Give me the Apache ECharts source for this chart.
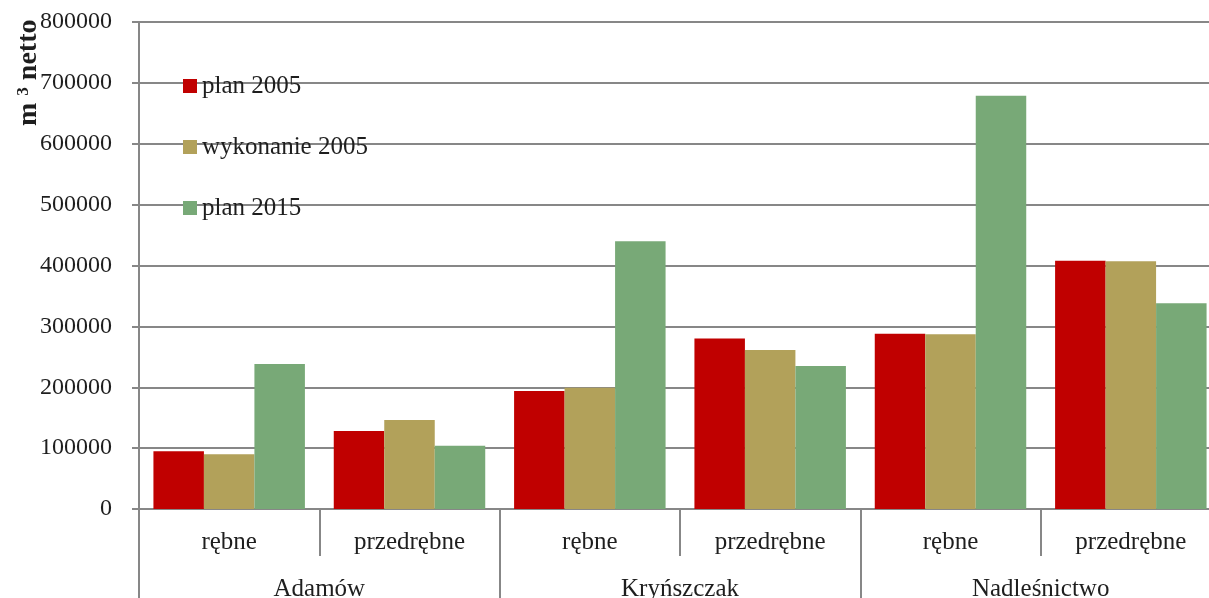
<!DOCTYPE html>
<html>
<head>
<meta charset="utf-8">
<script src="https://cdn.jsdelivr.net/npm/echarts@6/dist/echarts.min.js"></script>
<style>
  html, body { margin: 0; padding: 0; background: #ffffff; }
  #chart { width: 1209px; height: 598px; }
</style>
</head>
<body>
<div id="chart"></div>
<script>
// Cutting type within each unit, and the units themselves
const cuttingTypes = ['rębne', 'przedrębne', 'rębne', 'przedrębne', 'rębne', 'przedrębne'];
const units = ['Adamów', 'Kryńszczak', 'Nadleśnictwo'];

// Volumes in m³ netto
const plan2005 = [95000, 128000, 194000, 280000, 288000, 408000];
const wykonanie2005 = [90000, 146000, 199000, 261000, 287000, 407000];
const plan2015 = [238000, 104000, 440000, 235000, 679000, 338000];

const yTicks = { min: 0, max: 800000, step: 100000 };

const FONT = "'Liberation Serif', 'DejaVu Serif', serif";
const TEXT = '#1e1e1e';
const GRAY = '#878787';

const chart = echarts.init(document.getElementById('chart'), null, { renderer: 'canvas' });

chart.setOption({
  animation: false,
  backgroundColor: '#ffffff',
  grid: { left: 139, top: 22, right: -12, bottom: 89, containLabel: false, outerBoundsMode: 'none' },
  legend: {
    orient: 'vertical',
    left: 178,
    top: 68,
    itemWidth: 14,
    itemHeight: 14,
    itemGap: 35,
    icon: 'rect',
    textStyle: { fontFamily: FONT, fontSize: 25, color: TEXT, lineHeight: 26 },
    data: ['plan 2005', 'wykonanie 2005', 'plan 2015']
  },
  xAxis: [
    {
      type: 'category',
      data: cuttingTypes,
      position: 'bottom',
      axisLine: { show: true, lineStyle: { color: GRAY, width: 2 } },
      axisTick: { show: true, alignWithLabel: false, length: 47, lineStyle: { color: GRAY, width: 2 } },
      axisLabel: { interval: 0, margin: 21, fontFamily: FONT, fontSize: 25, color: TEXT },
      splitLine: { show: false }
    },
    {
      type: 'category',
      data: units,
      position: 'bottom',
      axisLine: { show: false },
      axisTick: { show: true, alignWithLabel: false, length: 100, lineStyle: { color: GRAY, width: 2 } },
      axisLabel: { interval: 0, margin: 68, fontFamily: FONT, fontSize: 25, color: TEXT },
      splitLine: { show: false }
    }
  ],
  yAxis: {
    type: 'value',
    min: yTicks.min,
    max: yTicks.max,
    interval: yTicks.step,
    axisLine: { show: true, lineStyle: { color: GRAY, width: 2 } },
    axisTick: { show: true, length: 7, lineStyle: { color: GRAY, width: 2 } },
    axisLabel: { margin: 27, fontFamily: FONT, fontSize: 24, color: TEXT, formatter: (v) => String(v) },
    splitLine: { show: true, lineStyle: { color: GRAY, width: 2 } }
  },
  graphic: [
    {
      type: 'text',
      x: 15,
      y: 126,
      rotation: Math.PI / 2,
      style: {
        text: '{a|m }{s|3}{a| netto}',
        rich: {
          a: { fontFamily: FONT, fontSize: 28, fontWeight: 'bold', fill: TEXT },
          s: { fontFamily: FONT, fontSize: 17, fontWeight: 'bold', fill: TEXT, verticalAlign: 'top', padding: [0, 0, 9, 0] }
        }
      }
    }
  ],
  series: [
    {
      name: 'plan 2005', type: 'bar', xAxisIndex: 0, data: plan2005,
      barGap: '0%', barCategoryGap: '16%',
      itemStyle: { color: '#C00000' }
    },
    {
      name: 'wykonanie 2005', type: 'bar', xAxisIndex: 0, data: wykonanie2005,
      barGap: '0%', barCategoryGap: '16%',
      itemStyle: { color: '#B2A15A' }
    },
    {
      name: 'plan 2015', type: 'bar', xAxisIndex: 0, data: plan2015,
      barGap: '0%', barCategoryGap: '16%',
      itemStyle: { color: '#78A977' }
    }
  ]
});
</script>
</body>
</html>
